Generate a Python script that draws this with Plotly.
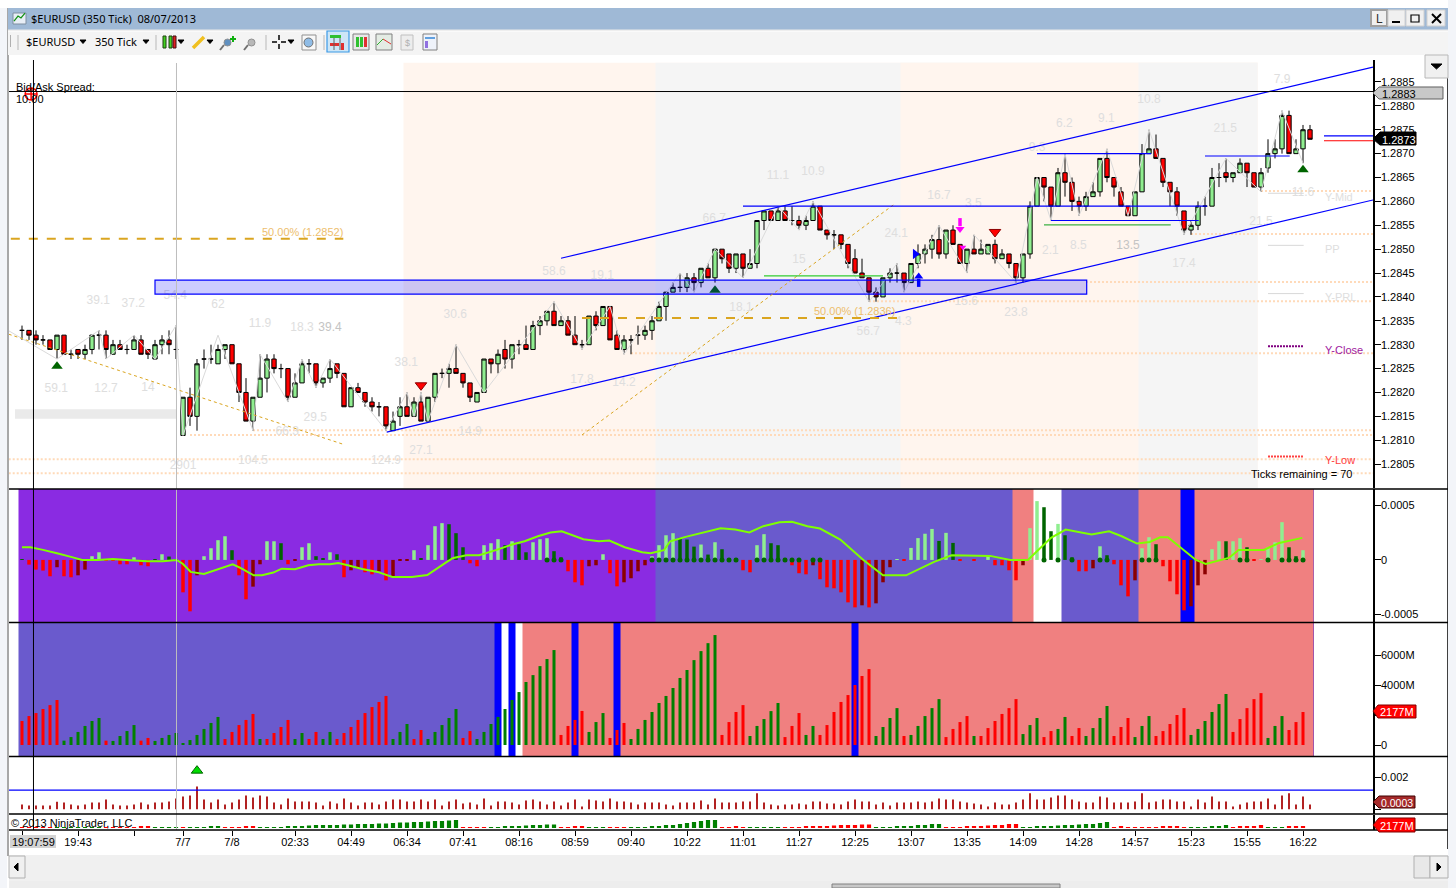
import plotly.graph_objects as go

W = 1456
H = 888

# prices are kept in pips, 2833 means 1.2833
bar_open = [2833,2833,2832,2831,2831,2829,2832,2828,2829,2828,
    2829,2832,2832,2828,2830,2829,2829,2831,2829,2827,
    2830,2831,2829,2811,2819,2815,2827,2827,2826,2829,
    2830,2826,2820,2814,2819,2823,2827,2825,2825,2819,
    2822,2826,2826,2822,2823,2826,2824,2817,2821,2820,
    2818,2817,2817,2812,2815,2817,2815,2818,2814,2819,
    2824,2824,2825,2824,2822,2818,2820,2827,2826,2829,
    2827,2830,2830,2829,2834,2835,2837,2834,2835,2832,
    2830,2830,2836,2834,2838,2832,2829,2831,2832,2832,
    2833,2835,2838,2841,2842,2842,2844,2843,2846,2844,
    2850,2849,2846,2849,2846,2847,2856,2858,2856,2858,
    2856,2856,2855,2856,2859,2854,2853,2853,2851,2848,
    2845,2844,2841,2840,2844,2845,2845,2843,2847,2849,
    2850,2852,2849,2854,2851,2847,2850,2849,2849,2851,
    2848,2849,2847,2844,2849,2859,2865,2863,2859,2866,
    2864,2860,2859,2861,2862,2869,2865,2862,2859,2857,
    2862,2870,2871,2869,2864,2862,2858,2854,2855,2859,
    2859,2865,2866,2865,2866,2868,2866,2863,2867,2870,
    2871,2878,2870,2871,2875]
bar_high = [2834,2833,2833,2832,2831,2832,2832,2829,2829,2830,
    2832,2833,2833,2831,2831,2830,2832,2832,2829,2831,
    2832,2833,2834,2819,2821,2827,2829,2830,2830,2830,
    2830,2826,2823,2819,2828,2828,2828,2826,2825,2824,
    2827,2827,2826,2823,2827,2826,2824,2821,2822,2820,
    2819,2818,2817,2816,2819,2820,2819,2820,2819,2824,
    2825,2826,2830,2824,2822,2820,2827,2827,2829,2831,
    2830,2831,2834,2835,2836,2837,2839,2836,2836,2836,
    2831,2836,2837,2838,2838,2833,2832,2832,2834,2834,
    2836,2839,2841,2843,2845,2845,2845,2846,2847,2850,
    2850,2849,2849,2849,2850,2856,2858,2858,2859,2859,
    2859,2857,2857,2860,2859,2854,2854,2853,2851,2850,
    2848,2844,2842,2844,2846,2847,2845,2847,2851,2851,
    2853,2855,2854,2855,2851,2850,2853,2852,2851,2852,
    2850,2849,2847,2849,2860,2865,2865,2863,2867,2870,
    2865,2861,2862,2864,2869,2871,2865,2863,2859,2862,
    2872,2875,2874,2869,2864,2863,2858,2856,2860,2861,
    2867,2868,2869,2866,2869,2868,2866,2867,2873,2873,
    2879,2879,2873,2876,2876]
bar_low = [2831,2831,2830,2830,2829,2827,2828,2827,2827,2827,
    2828,2829,2827,2828,2829,2828,2829,2828,2827,2827,
    2828,2828,2827,2811,2813,2812,2825,2826,2826,2827,
    2826,2818,2814,2812,2819,2820,2824,2823,2818,2819,
    2822,2824,2821,2821,2822,2823,2817,2817,2820,2817,
    2816,2815,2812,2812,2813,2815,2815,2814,2814,2818,
    2823,2821,2824,2821,2818,2818,2820,2824,2824,2825,
    2825,2828,2829,2829,2832,2834,2834,2834,2832,2830,
    2829,2830,2833,2834,2831,2829,2828,2828,2830,2831,
    2831,2835,2835,2841,2841,2841,2841,2842,2844,2843,
    2847,2845,2845,2844,2846,2846,2854,2856,2856,2856,
    2855,2854,2854,2856,2854,2852,2850,2850,2846,2845,
    2844,2839,2839,2840,2843,2843,2841,2843,2846,2847,
    2848,2848,2848,2851,2847,2845,2849,2849,2849,2847,
    2848,2846,2843,2843,2848,2859,2860,2856,2859,2861,
    2858,2857,2858,2861,2861,2864,2861,2859,2857,2857,
    2862,2870,2869,2863,2859,2857,2853,2853,2854,2857,
    2859,2863,2864,2864,2866,2863,2863,2862,2866,2869,
    2870,2870,2870,2868,2873]
bar_close = [2833,2832,2831,2831,2829,2832,2828,2828,2828,2829,
    2832,2832,2829,2830,2829,2829,2831,2828,2828,2830,
    2831,2830,2829,2819,2815,2826,2827,2827,2829,2830,
    2826,2820,2814,2819,2823,2827,2825,2825,2819,2822,
    2826,2826,2822,2823,2825,2824,2817,2821,2820,2818,
    2817,2817,2813,2814,2817,2815,2818,2814,2819,2824,
    2824,2825,2824,2822,2819,2820,2827,2826,2828,2827,
    2830,2830,2829,2834,2835,2837,2834,2835,2832,2830,
    2830,2836,2834,2838,2831,2829,2831,2831,2832,2833,
    2835,2838,2841,2842,2842,2844,2843,2846,2844,2850,
    2848,2846,2849,2846,2847,2856,2858,2856,2858,2856,
    2856,2855,2856,2859,2854,2853,2853,2851,2847,2845,
    2844,2841,2840,2844,2845,2845,2843,2847,2849,2850,
    2852,2849,2854,2851,2847,2850,2849,2850,2851,2848,
    2849,2847,2844,2849,2859,2865,2863,2859,2866,2864,
    2860,2859,2861,2862,2869,2865,2863,2859,2857,2862,
    2870,2871,2869,2864,2862,2859,2854,2855,2859,2859,
    2865,2865,2865,2866,2868,2866,2863,2866,2870,2871,
    2878,2870,2871,2875,2873]

# swing line joining the pivots
swing_bar = [-2,5,11,12,16,19,22,23,28,33,34,38,40,42,44,52,55,56,57,58,62,66,76,80,84,86,94,96,99,103,108,111,113,
    121,125,126,131,135,136,142,145,147,149,151,155,158,161,166,172,177,180,183]
swing_pip = [2833,2827,2833,2827,2832,2827,2834,2811,2832,2812,2828,2818,2827,2821,2827,2812,2820,2815,2820,2814,
    2830,2820,2839,2829,2838,2828,2845,2841,2850,2844,2859,2854,2860,2839,2847,2841,2855,2845,2853,2843,
    2865,2856,2870,2857,2871,2857,2875,2853,2869,2862,2879,2868]

label_text = ["39.1","37.2","54.4","62","11.9","18.3","39.4","30.6","38.1","58.6","19.1","66.7","18.1","15","11.1","10.9",
    "24.1","16.7","3.5","15.6","23.8","4.3","56.7","6.2","9.1","10.8","9.3","21.5","7.9","11.6","21.5","2.1","8.5","13.5",
    "17.4","59.1","12.7","14","2901","104.5","29.5","66.3","124.9","27.1","14.9","17.8","14.2"]
label_bar = [10.9,15.9,21.9,28,34,40,44,61.9,54.9,76,82.9,98.9,102.7,111,108,113,
    124.9,131,135.9,134.9,142,125.9,120.9,148.9,154.9,161,145,171.9,180,183,177,146.9,150.9,158,
    166,4.9,12,18,23,33,41.9,37.9,52,57,64,80,86]
label_price = [1.28391,1.28385,1.28402,1.28383,1.28343,1.28335,1.28335,1.28362,1.28262,1.28452,1.28444,1.28563,1.28377,1.28477,1.28653,1.28662,
    1.28532,1.28611,1.28595,1.28389,1.28366,1.28347,1.28326,1.28762,1.28773,1.28812,1.28712,1.28752,1.28854,1.28618,1.28557,1.28496,1.28507,1.28507,
    1.28469,1.28207,1.28207,1.28209,1.28046,1.28056,1.28146,1.28117,1.28056,1.28077,1.28117,1.28226,1.2822]

# macd histogram in units of 0.0001, kinds: L light green, D dark green, R red, M maroon
macd_hist = [0.05,-0.43,-0.89,-0.98,-1.5,-0.67,-1.5,-1.59,-1.41,-0.89,
    0.34,0.7,-0.06,-0.06,-0.4,-0.4,0.24,-0.49,-0.58,0.03,
    0.52,0.31,0.05,-2.97,-4.71,-1.41,0.34,1.07,1.81,2.17,
    0.89,-1.41,-3.61,-2.45,-0.4,1.71,1.71,1.53,-0.4,-0.09,
    1.16,1.53,0.34,0.15,0.7,0.52,-1.59,-0.95,-0.77,-1.13,
    -1.32,-1.04,-1.87,-1.5,-0.09,-0.09,0.89,0.15,1.35,3.09,
    3.37,3.27,2.45,1.16,-0.31,-0.58,1.35,1.53,1.9,1.35,
    1.71,1.44,0.7,1.62,1.9,1.99,0.8,0.24,-1.04,-2.05,
    -2.33,-0.58,-0.49,0.52,-1.22,-2.42,-2.05,-1.68,-1.04,-0.49,
    0.34,1.35,2.26,2.45,2.02,1.87,1.22,1.41,0.49,1.62,
    0.98,0.15,0.15,-0.95,-1.13,1.35,2.36,1.53,1.35,0.18,
    -0.49,-1.22,-1.32,-0.49,-1.77,-2.51,-2.6,-2.97,-3.89,-4.35,
    -4.16,-4.35,-3.98,-2.05,-0.67,0.06,-0.06,1.1,2.0,2.4,
    2.84,1.74,2.48,1.56,-0.09,0.0,-0.09,0.0,0.34,-0.49,
    -0.49,-0.95,-1.87,-0.49,2.91,5.39,4.83,2.63,3.3,2.26,
    0.24,-1.04,-1.04,-0.77,1.25,0.43,-0.4,-2.33,-3.34,-1.87,
    1.07,2.08,1.44,-0.58,-1.96,-3.15,-4.62,-4.25,-2.33,-1.32,
    0.98,1.71,1.71,1.71,1.99,1.16,-0.06,0.06,1.16,1.62,
    3.46,1.16,0.34,0.89]
macd_kind = ("DRRRRMRRMM" "LLRRRRLRRD" "LDDRRMLLLL" "DRRMMLLDRM" "LLDDLDRMMR"
    "RMRMMMLDLL" "LDDDRRLLLD" "LDDLLLDDRR" "RMMLRRMMMM" "LLLLDDDLDL"
    "DDDRRLLDDD" "RRRMRRRRRR" "MRMMMLRLLL" "LDLDRDRMLR" "RRRMLLDDLD"
    "DRRMLDRRRM" "LLDRRRRMMM" "LLDLLDRLLL" "LDDL")
macd_dot_bars = [75,76,77,90,91,92,93,94,95,96,97,98,99,100,101,102,105,106,107,108,109,110,111,113,114,
    146,148,150,154,155,160,161,162,174,175,178,180,181,182,183]
signal_bar = [0,1.2,3,4,5,7,8.6,10.8,13,15.4,17.9,20.1,22.1,23,24.1,26,28.1,30.1,31.2,33.1,34.3,35.9,37.1,39,40.9,42.4,44,45.2,46.4,
    48.6,50.8,52.9,55.7,57.9,60.7,61.6,63.5,65.3,67.8,70,71.8,73.7,75.5,77.1,80.2,82.4,83.9,86.1,88.6,89.8,91.7,92.6,94.8,97.7,99.8,
    101.9,103.9,105.9,108.2,110,112.2,114,116.9,120.2,123,126.3,130.3,132.8,138.3,141.2,143.7,147,149.1,152.8,155.3,157.1,159.3,
    161.1,162.6,163.7,167.7,169.1,172.4,173.8,177.4,179.6,182.9]
signal_val = [1.16,1.16,0.92,0.73,0.61,0.28,0,0,0.09,-0.03,-0.12,-0.12,0,-0.37,-1.1,-1.29,-0.83,-0.4,-0.73,-1.41,-1.41,-1.16,-0.8,-0.86,-0.49,-0.4,-0.4,-0.28,-0.46,
    -0.83,-1.1,-1.56,-1.56,-1.38,-0.18,0.18,0.43,0.43,0.92,1.41,1.71,2.17,2.51,2.63,1.9,1.71,1.77,1.16,0.7,0.61,0.89,1.71,2.11,2.54,2.91,
    2.78,2.51,3.09,3.46,3.49,3.09,2.88,1.87,0,-1.41,-1.41,-0.18,0.43,0.37,0,0,2.02,2.78,2.33,2.63,2.17,1.5,
    1.65,2.08,2.08,0,-0.37,0.18,0.92,0.92,1.56,2.02]

# volume in millions
volume = [1600,1930,2130,2400,2660,3000,290,530,870,1270,
    1600,1800,290,270,600,930,1330,290,470,270,
    470,670,800,70,330,670,1070,1470,1870,400,
    870,1330,1670,2070,400,400,800,1200,1670,400,
    800,400,870,400,870,400,800,1200,1670,2130,
    2530,2870,3270,400,870,1400,400,1000,400,870,
    1330,1800,2400,470,930,400,870,1400,1870,2400,
    3000,3530,4200,4660,5260,5730,6330,670,1270,1670,
    2270,870,1530,2130,470,1000,1470,400,1070,1670,
    2200,2800,3270,3800,4470,5000,5660,6260,6790,7330,
    670,1530,2200,2660,600,1270,1730,2260,2800,530,
    1270,2130,670,1270,670,1330,2200,2870,3330,4000,
    4600,5060,600,1200,1800,2460,600,670,1270,1930,
    2460,3060,530,1070,1530,1930,600,600,1130,1600,
    2070,2460,3060,730,1330,1800,530,930,1070,1870,
    600,1130,600,1130,1800,2600,600,1200,1800,530,
    1270,1930,600,930,1400,2000,2460,670,1070,1600,
    2200,2730,3400,870,1730,2460,3060,3460,470,1270,
    1930,1000,1530,2200]
volume_runs = [("R",6),("G",6),("R",1),("G",4),("R",2),("G",10),("R",5),("G",1),("R",4),("G",2),("R",2),("G",2),("R",8),
    ("G",3),("R",2),("G",5),("R",2),("G",12),("R",4),("G",3),("R",3),("G",13),("R",4),("G",5),("R",3),("G",2),("R",8),
    ("G",4),("R",1),("G",5),("R",4),("G",1),("R",6),("G",3),("R",2),("G",2),("R",2),("G",4),("R",3),("G",3),("R",5),
    ("G",6),("R",5),("G",3),("R",3)]

# bottom strip, read as bar heights
strip_val = [1,1,1,1,1,.7,.7,.7,.7,.7,.7,.7,1,1,1,1,1,2,2,.7,.7,.7,.7,.7,
    1,1,1,1.5,2,1,1,1,2,2,
    .7,1,1,1,1.5,1.5,2,2.5,3,3,3,3,3.5,3.5,4,4,4,4.5,4.5,5,5.5,5.5,6,6,6.5,7,7,7.5,8,
    1,1,.7,1,1,1,1.5,2,2,2.5,3,3,3.5,3.5,1,1,2,2,.7,1,1,1,1,1,
    .7,1,1,2,2,3,3,4,5,6,7,8,8,1,1,2,1,.7,.7,1,1,1,
    1,1,1,1.5,1.5,2,2,2.5,3,3,3,3.5,3.5,1,1,1,1.5,2,2,3,3,4,4,
    1,1,1,1.5,2,2,2.5,3,3,4,4,1,1,1.5,2,2,2.5,3,3,3.5,4,4,5,6,
    1,2,1,1,1,1,1,1.5,2,2,1,1,1,1,1.5,2,3,1,1.5,1.5,2,3,1,1,1,2,2,2]
strip_runs = [("R",5),("G",7),("R",7),("G",4),("R",1),("G",5),("R",5),("G",29),("R",4),("G",10),("R",4),("G",3),("R",3),
    ("G",13),("R",4),("G",5),("R",13),("G",10),("R",11),("G",13),("R",11),("G",6),("R",5),("G",3),("R",3)]

# range indicator bars
range_val = [0.00029,0.00023,0.00023,0.00023,0.00023,0.00046,0.00042,0.00029,0.00023,0.00029,
    0.00042,0.00042,0.0006,0.00029,0.00023,0.00023,0.00029,0.00042,0.00029,0.00042,
    0.00042,0.00048,0.00067,0.00079,0.00085,0.00141,0.0006,0.00042,0.0006,0.00029,
    0.00042,0.0006,0.00085,0.00073,0.00085,0.00079,0.00042,0.00029,0.00067,0.00048,
    0.00048,0.00048,0.00042,0.00023,0.00048,0.00035,0.00067,0.00042,0.00023,0.00042,
    0.00042,0.00029,0.00048,0.0006,0.0006,0.00048,0.00048,0.0006,0.00048,0.0006,
    0.00023,0.00048,0.0006,0.00035,0.00042,0.00029,0.00067,0.00023,0.00048,0.00048,
    0.00042,0.00029,0.00054,0.0006,0.00048,0.00029,0.00048,0.00023,0.00042,0.0006,
    0.00017,0.0006,0.00054,0.00048,0.00067,0.00048,0.00048,0.00042,0.00029,0.00042,
    0.00042,0.00042,0.00029,0.00023,0.00042,0.00042,0.00042,0.00054,0.00029,0.00067,
    0.00042,0.00042,0.00042,0.00048,0.00048,0.001,0.00042,0.00029,0.00023,0.00029,
    0.00029,0.00035,0.00029,0.00048,0.00048,0.00035,0.00035,0.00029,0.00048,0.0006,
    0.00048,0.00048,0.00029,0.00042,0.00023,0.00042,0.00042,0.00042,0.00048,0.00042,
    0.00048,0.00067,0.0006,0.0006,0.00048,0.00042,0.00035,0.00029,0.00017,0.00042,
    0.00029,0.00029,0.00042,0.0006,0.001,0.0006,0.0006,0.00073,0.00085,0.00085,
    0.0006,0.00048,0.00042,0.00042,0.00079,0.00073,0.00042,0.00042,0.00042,0.00048,
    0.001,0.00042,0.00048,0.0006,0.0006,0.00048,0.00048,0.00017,0.0006,0.00042,
    0.00079,0.00048,0.00048,0.00017,0.00029,0.00042,0.00048,0.00048,0.00067,0.00029,
    0.00085,0.001,0.00029,0.00079,0.00029]

# colour zones behind the two lower panels: edges and colours
macd_zone_edges = [-0.5,90.5,141.5,144.5,148.5,159.5,165.5,167.5,184.5]
macd_zone_colors = ["#8A2BE2","#6A5ACD","#F08080","#FFFFFF","#6A5ACD","#F08080","#0000FF","#F08080"]
vol_zone_edges = [-0.5,67.5,68.5,69.5,70.5,71.5,78.5,79.5,84.5,85.5,118.5,119.5,184.5]
vol_zone_colors = ["#6A5ACD","#0000FF","#FFFFFF","#0000FF","#FFFFFF","#F08080","#0000FF","#F08080","#0000FF","#F08080","#0000FF","#F08080"]
session_edges = [54.5,90.5,125.5,159.5,176.5]
session_colors = ["#FFF5EE","#F5F5F5","#FFF5EE","#F5F5F5"]

# dotted reference levels and the bar each starts from
level_price = [1.28622,1.28532,1.28431,1.28391,1.28282,1.28121,1.28111,1.2806,1.28031]
level_start = [177,167,152,121,87,33,24,-1.9,-1.9]

tick_bars = [0,8,16,23,30,39,47,55,63,71,79,87,95,103,111,119,127,135,143,151,159,167,175,183]
tick_text = ["","19:43","","7/7","7/8","02:33","04:49","06:34","07:41","08:16","08:59","09:40","10:22","11:01",
    "11:27","12:25","13:07","13:35","14:09","14:28","14:57","15:23","15:55","16:22"]
price_ticks = [1.2805,1.281,1.2815,1.282,1.2825,1.283,1.2835,1.284,1.2845,1.285,1.2855,1.286,1.2865,1.287,1.2875,1.288,1.2885]

FONT = "Liberation Sans"
FAINT = "#DEDEDE"
END = 193
bars = list(range(len(bar_open)))


def fy(y):
    return 1 - y / H


def fx(x):
    return x / W


def price(p):
    return [1 + v / 10000 for v in p]


def expand(runs):
    return [d for d, n in runs for _ in range(n)]


shapes = []
notes = []


def rect(x0, y0, x1, y1, fill, line=None, w=1):
    shapes.append(dict(type="rect", xref="paper", yref="paper", x0=fx(x0), x1=fx(x1), y0=fy(y0), y1=fy(y1),
        fillcolor=fill, line=dict(color=line or fill, width=w if line else 0), layer="above"))


def seg(x0, y0, x1, y1, color, w=1):
    shapes.append(dict(type="line", xref="paper", yref="paper", x0=fx(x0), x1=fx(x1), y0=fy(y0), y1=fy(y1),
        line=dict(color=color, width=w), layer="above"))


def poly(points, fill, line=None):
    d = "M" + " L".join("%.5f,%.5f" % (fx(a), fy(b)) for a, b in points) + " Z"
    shapes.append(dict(type="path", xref="paper", yref="paper", path=d, fillcolor=fill,
        line=dict(color=line or fill, width=1), layer="above"))


def text(x, y, s, size=11, color="black", anchor="left", font=FONT):
    shift = {"left": -2, "right": 2, "center": 0}[anchor]
    notes.append(dict(xref="paper", yref="paper", x=fx(x), y=fy(y), text=s, showarrow=False, xanchor=anchor, yanchor="middle",
        xshift=shift, font=dict(family=font, size=size, color=color)))


def data_line(x0, p0, x1, p1, color, w=1, dash="solid", yref="y", layer="above"):
    shapes.append(dict(type="line", xref="x", yref=yref, x0=x0, x1=x1, y0=p0, y1=p1,
        line=dict(color=color, width=w, dash=dash), layer=layer))


def zones(edges, colors, yref):
    # each zone runs to the last edge and the next one paints over it, no seams
    for i, c in enumerate(colors):
        shapes.append(dict(type="rect", xref="x", yref=yref + " domain", x0=edges[i], x1=edges[-1], y0=0, y1=1,
            fillcolor=c, line=dict(width=0), layer="below"))


fig = go.Figure()

zones(session_edges, session_colors, "y")
# the session shading starts a bit under the toolbar
shapes[-4:] = [dict(s, yref="y", y0=1.28, y1=1.2889) for s in shapes[-4:]]
zones(macd_zone_edges, macd_zone_colors, "y2")
zones(vol_zone_edges, vol_zone_colors, "y3")

# grey band left of the chart
shapes.append(dict(type="rect", xref="x", yref="y", x0=-1, x1=22, y0=1.28145, y1=1.28165, fillcolor="#EAEAEA", line=dict(width=0), layer="below"))

for p, s in zip(level_price, level_start):
    data_line(s, p, END, p, "#FFDAB9", 2, "2px,2px", layer="below")

fig.add_trace(go.Scatter(x=swing_bar, y=price(swing_pip), mode="lines", line=dict(color="#DADADA", width=1), hoverinfo="skip"))

fig.add_trace(go.Candlestick(x=bars, open=price(bar_open), high=price(bar_high), low=price(bar_low), close=price(bar_close),
    increasing=dict(line=dict(color="black", width=1), fillcolor="#90EE90"),
    decreasing=dict(line=dict(color="black", width=1), fillcolor="#FF0000"),
    whiskerwidth=0))

# channel, support box and drawn levels
data_line(77, 1.28481, END, 1.28881, "#0000FF", 1.2)
data_line(52.1, 1.28117, END, 1.28603, "#0000FF", 1.2)
shapes.append(dict(type="rect", xref="x", yref="y", x0=19, x1=152.1, y0=1.28406, y1=1.28435,
    fillcolor="rgba(0,0,255,0.2)", line=dict(color="#0000FF", width=1.2), layer="above"))
data_line(-1.6, 1.28522, 45.9, 1.28522, "#DAA520", 2, "dash")
data_line(80, 1.28356, 125, 1.28356, "#DAA520", 2, "dash")
data_line(-1.9, 1.28322, 46, 1.28091, "#DAA520", 1, "dot")
data_line(80, 1.28111, 124.7, 1.28595, "#DAA520", 1, "dot")
data_line(103, 1.2859, 169.3, 1.2859, "#0000FF", 1.2)
data_line(145, 1.287, 161.3, 1.287, "#0000FF", 1.2)
data_line(147, 1.2856, 168.1, 1.2856, "#0000FF", 1.2)
data_line(169, 1.28695, 181.1, 1.28695, "#0000FF", 1.2)
data_line(146, 1.28551, 164.1, 1.28551, "#3CB043", 1.2)
data_line(106, 1.28444, 123, 1.28444, "#32CD32", 1.2)
data_line(186, 1.28737, END, 1.28737, "#0000FF", 1.2)
data_line(186, 1.28727, END, 1.28727, "#FF0000", 1.2)
data_line(-1.9, 1.2883, END, 1.2883, "black", 1)
for p in [1.28617, 1.28508, 1.28407]:
    data_line(178, p, 183.1, p, "#D8D8D8", 1)
data_line(178, 1.28297, 183.1, 1.28297, "#800080", 2, "2px,1px")
data_line(178, 1.28066, 183.1, 1.28066, "#FF4040", 2, "2px,1px")

# signal arrows: stem drawn as a line, head as a marker
data_line(128.1, 1.28421, 128.1, 1.28438, "#0000FF", 3.5)
data_line(134, 1.28565, 134, 1.28548, "#FF00FF", 3.5)

fig.add_trace(go.Scatter(x=[5, 183, 99], y=[1.28255, 1.28666, 1.28414], mode="markers", hoverinfo="skip",
    marker=dict(symbol="triangle-up", size=10, color="#006400")))
fig.add_trace(go.Scatter(x=[57, 139], y=[1.28215, 1.28536], mode="markers", hoverinfo="skip",
    marker=dict(symbol="triangle-down", size=10, color="#FF0000", line=dict(color="#8B0000", width=1))))
fig.add_trace(go.Scatter(x=[128.1], y=[1.28443], mode="markers", hoverinfo="skip",
    marker=dict(symbol="triangle-up", size=8, color="#0000FF")))
fig.add_trace(go.Scatter(x=[134], y=[1.28542], mode="markers", hoverinfo="skip",
    marker=dict(symbol="triangle-down", size=8, color="#FF00FF")))
fig.add_trace(go.Scatter(x=[127.6], y=[1.2849], mode="markers", hoverinfo="skip",
    marker=dict(symbol="triangle-right", size=9, color="#0000FF")))
fig.add_trace(go.Scatter(x=[134.4], y=[1.28504], mode="markers", hoverinfo="skip",
    marker=dict(symbol="triangle-down", size=6, color="#FF00FF")))
fig.add_trace(go.Scatter(x=[1.3], y=[1.28825], mode="markers", hoverinfo="skip",
    marker=dict(symbol="circle-cross-open", size=12, color="#FF0000", line=dict(color="#FF0000", width=1.5))))

label_colors = ["#C4C4C4" if t in ("39.4", "13.5") else FAINT for t in label_text]
fig.add_trace(go.Scatter(x=label_bar, y=label_price, text=label_text, mode="text", hoverinfo="skip",
    textfont=dict(family=FONT, size=12, color=label_colors)))

# macd panel
kind_colors = {"L": "#90EE90", "D": "#006400", "R": "#FF0000", "M": "#8B0000"}
fig.add_trace(go.Bar(x=bars, y=[v / 10000 for v in macd_hist], yaxis="y2", width=0.5,
    marker=dict(color=[kind_colors[k] for k in macd_kind], line=dict(width=0))))
fig.add_trace(go.Scatter(x=macd_dot_bars, y=[0] * len(macd_dot_bars), yaxis="y2", mode="markers", hoverinfo="skip",
    marker=dict(size=5, color="#006400")))
fig.add_trace(go.Scatter(x=signal_bar, y=[v / 10000 for v in signal_val], yaxis="y2", mode="lines", hoverinfo="skip",
    line=dict(color="#7FFF00", width=2)))

# volume panels
vol_bars = list(range(len(volume)))
vol_colors = ["#FF0000" if d == "R" else "#008000" for d in expand(volume_runs)]
strip_colors = ["#FF0000" if d == "R" else "#008000" for d in expand(strip_runs)]
fig.add_trace(go.Bar(x=vol_bars, y=volume, yaxis="y3", width=0.43, marker=dict(color=vol_colors, line=dict(width=0))))
fig.add_trace(go.Bar(x=bars, y=range_val, yaxis="y4", width=0.13, marker=dict(color="#B22222", line=dict(width=0))))
fig.add_trace(go.Scatter(x=[25], y=[0.0024], yaxis="y4", mode="markers", hoverinfo="skip",
    marker=dict(symbol="triangle-up", size=10, color="#00DD00", line=dict(color="#006400", width=1))))
fig.add_trace(go.Bar(x=vol_bars, y=strip_val, yaxis="y5", width=0.6, marker=dict(color=strip_colors, line=dict(width=0))))
data_line(-1.9, 0.00119, END, 0.00119, "#0000FF", 1.2, yref="y4")

# crosshair and the session start marker run through every panel
shapes.append(dict(type="line", xref="x", yref="paper", x0=22.07, x1=22.07, y0=fy(63), y1=fy(830), line=dict(color="#BEBEBE", width=1), layer="above"))
shapes.append(dict(type="line", xref="x", yref="paper", x0=1.64, x1=1.64, y0=fy(60), y1=fy(830), line=dict(color="black", width=1), layer="above"))

# panel frame
for y in [489, 622.5, 756.5, 814, 830]:
    seg(8, y, 1448, y, "black", 1.5)
seg(1448, 55, 1448, 856, "black", 1.5)

# left edge, title bar, toolbar
rect(0, 0, 7, 888, "#F3F5F9")
rect(7, 8, 9, 856, "#A8A8A8")
rect(0, 0, 1456, 8, "#FFFFFF")
rect(8, 8, 1448, 30, "#9FB9D6")
rect(8, 30, 1448, 55, "#F4F4F4")
seg(8, 30, 1448, 30, "#E8E8E8")
rect(1448, 0, 1456, 888, "#F3F5F9")
rect(8, 31, 1448, 31.5, "#FFFFFF")
rect(13, 13, 26, 24, "#E8EEF6", "#7F8FA0")
shapes.append(dict(type="path", xref="paper", yref="paper", layer="above", line=dict(color="#109010", width=1.2),
    path="M%.5f,%.5f L%.5f,%.5f L%.5f,%.5f L%.5f,%.5f" % (fx(14), fy(21), fx(18), fy(16), fx(21), fy(18), fx(25), fy(13))))
text(31, 18.5, "$EURUSD (350 Tick)  08/07/2013", 11, "black", font="Noto Sans")
text(26, 42, "$EURUSD", 11, "black", font="Noto Sans")
text(95, 42, "350 Tick", 11, "black", font="Noto Sans")
for x in [83, 146, 181, 210, 291]:
    poly([(x - 3, 40), (x + 3, 40), (x, 43.5)], "black")
for x in [18, 156, 266, 324]:
    seg(x, 35, x, 50, "#B8B8B8")
seg(10.5, 35, 10.5, 47, "#B0B0B0", 1)

# toolbar icons, rough versions
rect(163, 36, 166, 48, "#40D020", "#204010")
rect(169, 36, 172, 48, "#40D020", "#204010")
rect(173, 36, 176, 48, "#E02020", "#401010")
seg(193, 48, 204, 37, "#F0C020", 3.5)
for x, c in [(227, "#6090C0"), (251, "#B8B8B8")]:
    shapes.append(dict(type="circle", xref="paper", yref="paper", x0=fx(x - 3), x1=fx(x + 4), y0=fy(46), y1=fy(39),
        fillcolor=c, line=dict(color="#909090", width=1), layer="above"))
    seg(x - 7, 50, x - 3, 45, "#707070", 2)
seg(230, 39, 236, 39, "#10B010", 2)
seg(233, 36, 233, 42, "#10B010", 2)
seg(272, 42, 277, 42, "black", 1.5)
seg(281, 42, 286, 42, "black", 1.5)
seg(279, 35, 279, 40, "black", 1.5)
seg(279, 44, 279, 49, "black", 1.5)
rect(302, 35, 316, 50, "#F8F8F8", "#909090")
shapes.append(dict(type="circle", xref="paper", yref="paper", x0=fx(304), x1=fx(313), y0=fy(47), y1=fy(38),
    fillcolor="#8FBCE6", line=dict(color="#707070", width=1), layer="above"))
rect(327, 31, 349, 52, "#CDE6F7", "#3B99E6", 1.2)
rect(330, 35, 341, 38, "#30C030")
rect(330, 43, 339, 46, "#E03030")
rect(341, 43, 344, 50, "#E03030")
for x in [334, 340]:
    seg(x, 38, x, 50, "#606060")
rect(353, 34, 369, 50, "#E8E8E8", "#808080")
rect(356, 37, 359, 47, "#30C030")
rect(360, 37, 363, 47, "#30C030")
rect(364, 37, 367, 47, "#E03030")
rect(376, 34, 392, 50, "#E4ECE4", "#808080")
seg(377, 45, 383, 39, "#30B030")
seg(383, 39, 391, 44, "#E03030")
rect(401, 35, 413, 50, "#EDEDED", "#C0C0C0")
text(407, 43, "$", 9, "#B0B0B0", "center")
rect(423, 34, 437, 50, "#EEF2FA", "#808080")
rect(425, 37, 435, 39, "#60A0E0")
rect(425, 41, 428, 48, "#9070E0")

# window buttons
rect(1371, 10, 1387, 26, "#F0F0F0", "#A0A0A0", 2)
text(1379, 18.5, "L", 12, "#303030", "center")
rect(1388, 10, 1405, 26, "#F0F0F0", "#D0D0D0")
seg(1392, 22, 1400, 22, "black", 2)
rect(1406, 10, 1424, 26, "#F0F0F0", "#D0D0D0")
rect(1411, 15, 1419, 22, "#F0F0F0", "black", 1.2)
rect(1427, 10, 1445, 26, "#F0F0F0", "#D0D0D0")
seg(1432, 14, 1441, 23, "black", 2)
seg(1441, 14, 1432, 23, "black", 2)
rect(1425, 55, 1448, 78, "#F0F0F0", "#B8B8B8")
poly([(1431, 64), (1442, 64), (1436.5, 69)], "black")

# scroll bar along the bottom
rect(9, 849, 1448, 855, "#FFFFFF")
rect(9, 855, 1448, 881, "#F0F0F0")
rect(9, 856, 25, 878, "#F0F0F0", "#B0B0B0")
poly([(18, 863), (18, 871), (14, 867)], "black")
rect(1414, 856, 1430, 878, "#E8E8E8", "#B0B0B0")
rect(1430, 856, 1448, 878, "#F0F0F0", "#B0B0B0")
poly([(1437, 863), (1437, 871), (1441, 867)], "black")
rect(9, 881, 1448, 888, "#EDEDED")
rect(832, 884, 1060, 888, "#C8C8C8", "#808080")

# value tags on the price and lower scales
poly([(1373, 93), (1379, 87), (1443, 87), (1443, 99), (1379, 99)], "#C8C8C8", "#606060")
text(1382, 93.5, "1.2883", 11, "black")
poly([(1373, 139), (1380, 132), (1416, 132), (1416, 145), (1380, 145)], "black")
text(1382, 139.5, "1.2873", 11, "white")
poly([(1373, 711), (1378, 705), (1416, 705), (1416, 718), (1378, 718)], "#FF0000", "#800000")
text(1380, 711.5, "2177M", 11, "white")
poly([(1373, 802), (1379, 796), (1415, 796), (1415, 808), (1379, 808)], "#A52A2A", "#400000")
text(1381, 802.5, "0.0003", 10.5, "white")
poly([(1373, 825), (1379, 818), (1415, 818), (1415, 832), (1379, 832)], "#FF0000", "#800000")
text(1380, 825.5, "2177M", 11, "white")

# crosshair time label
rect(10, 835, 56, 848, "#D3D3D3")
text(33, 842, "19:07:59", 11, "black", "center")

text(16, 87, "Bid/Ask Spread:", 11)
text(16, 99, "10.00", 11)
text(1251, 474, "Ticks remaining = 70", 11)
text(11, 823, "© 2013 NinjaTrader, LLC", 11)
text(343, 232, "50.00% (1.2852)", 11, "#EDBE6E", "right")
text(895, 311, "50.00% (1.2836)", 11, "#EDBE6E", "right")
for name, y, col in [("Y-Mid", 197, FAINT), ("PP", 249, FAINT), ("Y-PRL", 297, FAINT), ("Y-Close", 350, "#A020A0"), ("Y-Low", 460, "#FF4040")]:
    text(1325, y, name, 11, col)

axis_common = dict(anchor="x", side="right", showgrid=False, zeroline=False, showline=True, linecolor="black", linewidth=1.5,
    ticks="outside", ticklen=6, tickcolor="black", ticklabelstandoff=-2, tickfont=dict(family=FONT, size=11, color="black"))

fig.update_layout(
    width=W,
    height=H,
    autosize=False,
    margin=dict(l=0, r=0, t=0, b=0),
    paper_bgcolor="white",
    plot_bgcolor="white",
    showlegend=False,
    barmode="overlay",
    boxgap=0.12,
    shapes=shapes,
    annotations=notes,
    xaxis=dict(domain=[fx(9), fx(1373)], range=[-13 / 7, END], anchor="y5", showgrid=False, zeroline=False,
        rangeslider=dict(visible=False), tickvals=tick_bars, ticktext=tick_text, ticks="outside", ticklen=5, tickcolor="black",
        ticklabelstandoff=-3, tickfont=dict(family=FONT, size=11, color="black"), tickangle=0),
    yaxis=dict(axis_common, domain=[fy(488), fy(60)], range=[1.28, 1.28896], tickvals=price_ticks,
        ticktext=["%.4f" % t for t in price_ticks]),
    yaxis2=dict(axis_common, domain=[fy(622), fy(489)], range=[-0.000569, 0.00065], tickvals=[-0.0005, 0, 0.0005],
        ticktext=["-0.0005", "0", "0.0005"]),
    yaxis3=dict(axis_common, domain=[fy(756), fy(623)], range=[-733, 8133], tickvals=[0, 2000, 4000, 6000],
        ticktext=["0", "", "4000M", "6000M"]),
    yaxis4=dict(axis_common, domain=[fy(814), fy(757)], range=[-0.0003, 0.00325], tickvals=[0, 0.002], ticktext=["", "0.002"]),
    yaxis5=dict(axis_common, domain=[fy(830), fy(815)], range=[-2, 13], tickvals=[]),
)

fig.write_html("out.html", config={"displayModeBar": False},
    post_script="document.body.style.margin='0';document.body.style.overflow='hidden';")
